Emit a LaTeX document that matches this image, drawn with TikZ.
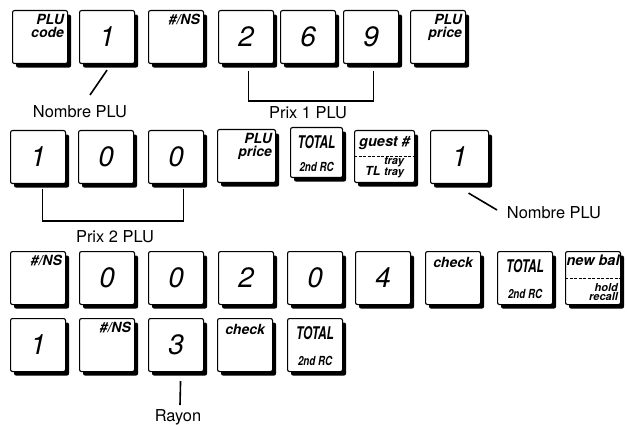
\documentclass[tikz,border=0pt]{standalone}
\usepackage{fontspec}
\setmainfont{TeX Gyre Heros}
\usetikzlibrary{shadows,calc}
\tikzset{
  key/.style={draw,line width=1.1pt,fill=white,rounded corners=2pt,
    minimum width=55pt,minimum height=53pt,inner sep=0pt,anchor=north west,
    general shadow={fill=black,shadow xshift=3.5pt,shadow yshift=-4pt},
    font=\fontsize{28}{28}\selectfont\itshape},
  keytext/.style={font=\fontsize{14}{13}\selectfont\bfseries\itshape,inner sep=0pt,align=right},
  keybold/.style={font=\fontsize{14.5}{13}\selectfont\bfseries\itshape,inner sep=0pt},
  keysmall/.style={font=\fontsize{11}{9.5}\selectfont\bfseries\itshape,inner sep=0pt,align=right},
  toptext/.style={label={[keytext,anchor=north east,shift={(-4pt,-4pt)}]north east:{#1}}},
  midtext/.style={label={[keytext,anchor=north,shift={(0pt,-6pt)}]north:{#1}}},
  totalkey/.style={key,
    label={[font=\fontsize{17.5}{18}\selectfont\bfseries\itshape,inner sep=0pt,anchor=north,yshift=-8pt]north:\scalebox{0.68}[1]{TOTAL}},
    label={[font=\fontsize{12.5}{12}\selectfont\bfseries\itshape,inner sep=0pt,anchor=south,yshift=6pt]south:\scalebox{0.78}[1]{2nd RC}}},
  splitline/.style={line width=0.8pt,dash pattern=on 3pt off 1.5pt},
  brace/.style={line width=1.6pt},
  caption/.style={font=\fontsize{16.4}{17}\selectfont,inner sep=0pt}
}
\begin{document}
\begin{tikzpicture}[x=1pt,y=-1pt]
  \useasboundingbox (0,0) rectangle (627,425);
  % first line: PLU code 1 #/NS 2 6 9 PLU price
  \node[key,toptext={PLU\\code}] (code1) at (12,10) {};
  \node[key] (one1) at (79,10) {1};
  \node[key,toptext={\#/NS}] (ns1) at (148,10) {};
  \foreach \x/\n/\dg in {218/two1/2,280/six1/6,343/nine1/9}
    \node[key] (\n) at (\x,10) {\dg};
  \node[key,toptext={PLU\\price}] (price1) at (410,10) {};
  \node[caption] (nplu1) at (80,112) {Nombre PLU};
  \coordinate (c1) at (90,95);
  \draw[brace] ($(one1.south)+(0,6)$) -- (c1);
  \draw[brace] ($(two1.south)+(2.5,7)$) -- ++(0,30) -| ($(nine1.south)+(2.5,7)$);
  \node[caption] (prix1) at (308,113) {Prix 1 PLU};

  % second line
  \node[key] (one2) at (10,130) {1};
  \node[key] (zero2a) at (78,130) {0};
  \node[key] (zero2b) at (148,130) {0};
  \node[key,minimum width=58pt,toptext={PLU\\price}] (price2) at (217,129) {};
  \node[totalkey,minimum width=52pt,minimum height=50pt] (total2) at (290,127) {};
  \node[key,minimum width=60pt,minimum height=52pt,
    label={[keybold,anchor=north,yshift=-6pt]north:guest \#},
    label={[keybold,anchor=south,yshift=5pt]south:{\fontsize{12.5}{12}\selectfont TL}\,\parbox[b]{21pt}{\raggedleft\fontsize{11}{8.5}\selectfont tray\\tray}}] (guest2) at (354,130) {};
  \draw[splitline] (guest2.west) -- (guest2.east);
  \node[key,minimum width=58pt] (one2b) at (430,130) {1};
  \draw[brace] ($(one2.south)+(4.5,5)$) -- ++(0,32) -| ($(zero2b.south)+(7.5,5)$);
  \node[caption] (prix2) at (115,237) {Prix 2 PLU};
  \coordinate (c2) at (497,210);
  \draw[brace] ($(one2b.south)+(9,9)$) -- (c2);
  \node[caption] (nplu2) at (554,213) {Nombre PLU};

  % third line
  \node[key,toptext={\#/NS}] (ns3) at (10,251) {};
  \foreach \x/\n/\dg in {79/zero3a/0,148/zero3b/0,218/two3/2,287/zero3c/0,355/four3/4}
    \node[key] (\n) at (\x,251) {\dg};
  \node[key,midtext=check] (check3) at (425,251) {};
  \node[totalkey] (total3) at (497,251) {};
  \node[key,
    label={[keybold,anchor=north,yshift=-4pt]north:new bal},
    label={[keysmall,anchor=south east,shift={(-3pt,4pt)}]south east:{hold\\recall}}] (bal3) at (565,251) {};
  \draw[splitline] (bal3.west) -- (bal3.east);

  % fourth line
  \node[key] (one4) at (10,318) {1};
  \node[key,toptext={\#/NS}] (ns4) at (79,318) {};
  \node[key] (three4) at (148,318) {3};
  \node[key,midtext=check] (check4) at (217,318) {};
  \node[totalkey] (total4) at (287,318) {};
  \coordinate (c3) at (180,405);
  \draw[brace] ($(three4.south)+(4.5,9)$) -- (c3);
  \node[caption] (rayon) at (178,417) {Rayon};
\end{tikzpicture}
\end{document}
